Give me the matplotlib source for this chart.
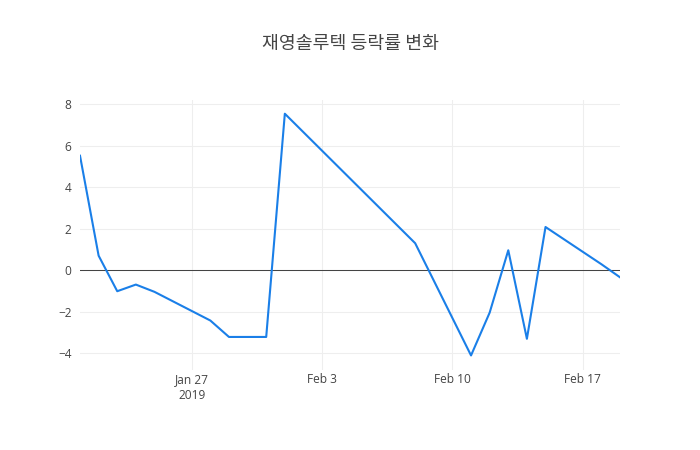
import matplotlib
matplotlib.use('Agg')
import matplotlib.pyplot as plt
import matplotlib.dates as mdates
import numpy as np

plt.rcParams['font.family'] = ['Open Sans', 'Noto Sans CJK KR', 'DejaVu Sans']

# data
dates = np.array(['2019-01-21', '2019-01-22', '2019-01-23', '2019-01-24', '2019-01-25',
                  '2019-01-28', '2019-01-29', '2019-01-31', '2019-02-01', '2019-02-08',
                  '2019-02-11', '2019-02-12', '2019-02-13', '2019-02-14', '2019-02-15',
                  '2019-02-18', '2019-02-19'], dtype='datetime64[D]')
rates = [5.51, 0.70, -1.01, -0.69, -1.04,
         -2.42, -3.21, -3.21, 7.53, 1.30,
         -4.10, -2.04, 0.96, -3.30, 2.08,
         0.29, -0.34]

tick_dates = np.array(['2019-01-27', '2019-02-03', '2019-02-10', '2019-02-17'], dtype='datetime64[D]')
tick_labels = ['Jan 27\n2019', 'Feb 3', 'Feb 10', 'Feb 17']
y_ticks = [-4, -2, 0, 2, 4, 6, 8]
title = '재영솔루텍 등락률 변화'

fig = plt.figure(figsize=(7, 4.5), dpi=100)
ax = fig.add_axes([80 / 700, 80 / 450, 540 / 700, 270 / 450])

ax.plot(dates, rates, color='#1a7fe8', linewidth=1.5, zorder=3)
ax.axhline(0, color='#444444', linewidth=0.75, zorder=2)

ax.set_xlim(dates[0], dates[-1])
ax.set_ylim(-4.8, 8.19)

ax.set_xticks(tick_dates)
ax.set_xticklabels(tick_labels, linespacing=1.3)
ax.set_yticks(y_ticks)
ax.set_yticklabels(['\u22124', '\u22122', '0', '2', '4', '6', '8'])

ax.grid(True, color='#eeeeee', linewidth=0.75, zorder=0)
ax.set_axisbelow(True)
ax.tick_params(length=0, labelsize=8.6, colors='#444444')
ax.tick_params(axis='x', pad=2)
ax.tick_params(axis='y', pad=6)
for s in ax.spines.values():
    s.set_visible(False)

fig.text(0.5, 1 - 44 / 450, title, ha='center', va='center', fontsize=13.2,
         color='#444444', family=['Noto Sans CJK KR', 'DejaVu Sans'])

fig.savefig('out.png', dpi=100)
